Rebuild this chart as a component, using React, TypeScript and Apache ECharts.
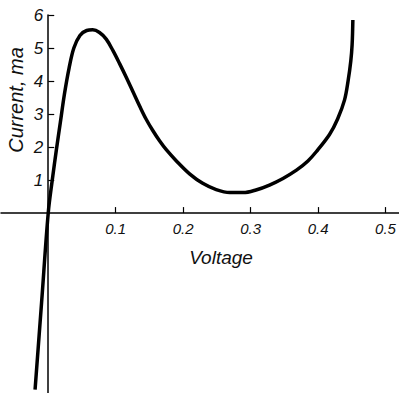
import React, { useEffect, useRef } from "react";
import * as echarts from "echarts";

const voltage = [
  -0.0195, -0.0098, 0, 0.006, 0.012, 0.018, 0.024, 0.031, 0.038, 0.047, 0.057,
  0.066, 0.076, 0.086, 0.096, 0.106, 0.116, 0.126, 0.136, 0.145, 0.155, 0.165,
  0.175, 0.19, 0.21, 0.229, 0.249, 0.269, 0.289, 0.308, 0.328, 0.348, 0.368,
  0.385, 0.397, 0.417, 0.429, 0.4393, 0.4445, 0.4485, 0.4505, 0.4516,
];
const current = [
  -5.35, -2.7, 0, 1.0, 1.9, 2.75, 3.6, 4.4, 5.0, 5.38, 5.53, 5.55, 5.47, 5.27,
  4.92, 4.52, 4.1, 3.66, 3.22, 2.85, 2.5, 2.19, 1.92, 1.58, 1.18, 0.9, 0.71,
  0.62, 0.62, 0.7, 0.85, 1.05, 1.3, 1.58, 1.85, 2.38, 2.85, 3.43, 4.0, 4.6,
  5.1, 5.85,
];
const xTicks = [0.1, 0.2, 0.3, 0.4, 0.5];
const yTicks = [1, 2, 3, 4, 5, 6];
const xTitle = "Voltage";
const yTitle = "Current, ma";

export default function App() {
  const ref = useRef<HTMLDivElement>(null);
  useEffect(() => {
    if (!ref.current) return;
    const chart = echarts.init(ref.current, null, { renderer: "svg" });
    const font = "Liberation Sans";
    const W = 399;
    const H = 393;
    const gridLeft = 1;
    const gridTop = 15;
    const xMin = -0.07;
    const xMax = 0.52;
    const yMin = -5.45;
    const yMax = 6;
    const gw = W - gridLeft;
    const gh = H - gridTop;
    const zeroX = ((0 - xMin) / (xMax - xMin)) * gw;
    const zeroYFromBottom = ((0 - yMin) / (yMax - yMin)) * gh;
    chart.setOption({
      animation: false,
      backgroundColor: "#fff",
      grid: {
        left: gridLeft,
        right: 0,
        top: gridTop,
        bottom: 0,
        containLabel: false,
        outerBoundsMode: "none",
      },
      xAxis: {
        type: "value",
        position: "bottom",
        offset: -zeroYFromBottom,
        min: xMin,
        max: xMax,
        splitLine: { show: false },
        axisLine: { onZero: false, lineStyle: { color: "#000", width: 1.5 } },
        axisTick: {
          show: true,
          inside: true,
          length: 6,
          customValues: xTicks,
          lineStyle: { color: "#000", width: 1.2 },
        },
        axisLabel: {
          customValues: xTicks,
          formatter: (v: number) => String(Math.round(v * 10) / 10),
          color: "#111",
          fontFamily: font,
          fontStyle: "italic",
          fontSize: 15,
          margin: 8,
        },
      },
      yAxis: {
        type: "value",
        position: "left",
        offset: -zeroX,
        min: yMin,
        max: yMax,
        splitLine: { show: false },
        axisLine: { onZero: false, lineStyle: { color: "#000", width: 1.5 } },
        axisTick: {
          show: true,
          inside: true,
          length: 6,
          customValues: yTicks,
          lineStyle: { color: "#000", width: 1.2 },
        },
        axisLabel: {
          customValues: yTicks,
          color: "#111",
          fontFamily: font,
          fontStyle: "italic",
          fontSize: 17,
          margin: 5,
        },
      },
      graphic: [
        {
          type: "text",
          x: 221,
          y: 257,
          style: {
            text: xTitle,
            fill: "#111",
            font: `italic 19px "${font}"`,
            align: "center",
            verticalAlign: "middle",
          },
        },
        {
          type: "text",
          x: 16,
          y: 100,
          rotation: Math.PI / 2,
          style: {
            text: yTitle,
            fill: "#111",
            font: `italic 20px "${font}"`,
            align: "center",
            verticalAlign: "middle",
          },
        },
      ],
      series: [
        {
          type: "line",
          data: voltage.map((v, i) => [v, current[i]]),
          showSymbol: false,
          smooth: 0.35,
          lineStyle: { color: "#000", width: 3.5 },
          clip: false,
        },
      ],
    });
    return () => chart.dispose();
  }, []);
  return (
    <div
      ref={ref}
      style={{ position: "fixed", left: 0, top: 0, width: 399, height: 393 }}
    />
  );
}
